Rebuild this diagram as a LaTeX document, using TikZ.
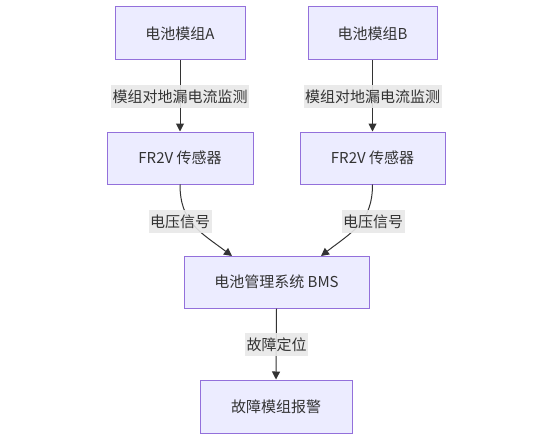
\documentclass[tikz,border=0pt]{standalone}
\usepackage{fontspec}
\setmainfont{Noto Sans CJK SC}
\usetikzlibrary{arrows.meta}
\definecolor{boxfill}{HTML}{ECECFF}
\definecolor{boxline}{HTML}{9370DB}
\definecolor{edgecol}{HTML}{333333}
\definecolor{lblfill}{HTML}{E8E8E8}
\definecolor{txtcol}{HTML}{333333}
\tikzset{
  nodebox/.style={draw=boxline, fill=boxfill, line width=1pt, text=txtcol,
    font=\fontsize{15}{18}\selectfont, inner sep=0pt, align=center},
  edgelbl/.style={fill=lblfill, fill opacity=0.9, text opacity=1, text=txtcol,
    font=\fontsize{15}{18}\selectfont, inner xsep=1.5pt, inner ysep=0pt,
    minimum height=23pt},
  conn/.style={draw=edgecol, line width=1pt,
    -{Triangle[length=8pt,width=8pt]}},
}
\begin{document}
\begin{tikzpicture}[x=1pt,y=-1pt]
\useasboundingbox (0,0) rectangle (553,441);
\node[nodebox, minimum width=130pt, minimum height=53pt] (A) at (180,33.5) {电池模组A};
\node[nodebox, minimum width=129pt, minimum height=53pt] (B) at (372.5,33.5) {电池模组B};
\node[nodebox, minimum width=146pt, minimum height=52pt] (FA) at (180,158) {FR2V 传感器};
\node[nodebox, minimum width=145pt, minimum height=52pt] (FB) at (372.5,158) {FR2V 传感器};
\node[nodebox, minimum width=185pt, minimum height=52pt] (BMS) at (276.5,282) {电池管理系统 BMS};
\node[nodebox, minimum width=152pt, minimum height=53pt] (AL) at (276,406.5) {故障模组报警};
\coordinate (ta) at (232,256);
\coordinate (tb) at (321,256);

\draw[conn] (A.south) -- (FA.north);
\draw[conn] (B.south) -- (FB.north);
\draw[conn] (FA.south) .. controls (180,222) and (200,232) .. (ta);
\draw[conn] (FB.south) .. controls (372.5,222) and (352,232) .. (tb);
\draw[conn] (BMS.south) -- (AL.north);

\node[edgelbl] (la) at (180,96.5) {模组对地漏电流监测};
\node[edgelbl] (lb) at (372.5,96.5) {模组对地漏电流监测};
\node[edgelbl] (lc) at (180,221.5) {电压信号};
\node[edgelbl] (ld) at (373,221.5) {电压信号};
\node[edgelbl] (le) at (276.5,344.5) {故障定位};
\end{tikzpicture}
\end{document}
